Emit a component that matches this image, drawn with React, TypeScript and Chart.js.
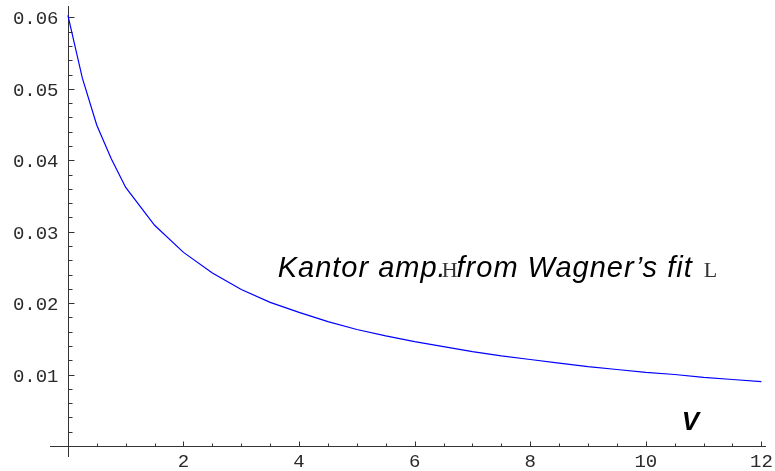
import React, { useEffect, useRef } from 'react';
import { Chart, registerables } from 'chart.js';

Chart.register(...registerables);

// ---- data ----
const xValues = [0, 0.25, 0.5, 0.75, 1, 1.5, 2, 2.5, 3, 3.5, 4, 4.5, 5, 5.5, 6, 6.5, 7, 7.5, 8, 8.5, 9, 9.5, 10, 10.5, 11, 11.5, 12];
const yValues = [0.0603, 0.0515, 0.0449, 0.0402, 0.0362, 0.0309, 0.0271, 0.0242, 0.0219, 0.0201, 0.0187, 0.0174, 0.0163, 0.0154, 0.0146, 0.0139, 0.0132, 0.0126, 0.0121, 0.0116, 0.0111, 0.0107, 0.0103, 0.0100, 0.0096, 0.0093, 0.0090];

const xTickValues = [2, 4, 6, 8, 10, 12];
const xTickLabels = ['2', '4', '6', '8', '10', '12'];
const xMinorStep = 0.5;
const yTickValues = [0.01, 0.02, 0.03, 0.04, 0.05, 0.06];
const yTickLabels = ['0.01', '0.02', '0.03', '0.04', '0.05', '0.06'];
const yMinorStep = 0.002;

const xMin = -0.31;
const xMax = 12.08;
const yMin = -0.00155;
const yMax = 0.0616;

const annotationAt = { x: 3.63, y: 0.0237 };
const axisLabelAt = { x: 10.62, y: 0.0022 };
const axisLabel = 'V';

const axisColor = '#333333';
const monoFont = '19px "Liberation Mono", "DejaVu Sans Mono", monospace';
const annSymFont = '22px "Liberation Serif", "DejaVu Serif", serif';
const italicFont = 'italic 29px "Liberation Sans", Arial, sans-serif';
const axisLabelFont = 'italic bold 26px "Liberation Sans", Arial, sans-serif';

const axesPlugin = {
  id: 'mathAxes',
  beforeDatasetsDraw(chart: any) {
    const { ctx, chartArea } = chart;
    const xs = chart.scales.x;
    const ys = chart.scales.y;
    const x0 = Math.round(xs.getPixelForValue(0)) + 0.5;
    const y0 = Math.round(ys.getPixelForValue(0)) + 0.5;
    ctx.save();
    ctx.strokeStyle = axisColor;
    ctx.lineWidth = 1;
    ctx.beginPath();
    ctx.moveTo(chartArea.left, y0);
    ctx.lineTo(chartArea.right, y0);
    ctx.moveTo(x0, chartArea.top);
    ctx.lineTo(x0, chartArea.bottom);
    ctx.stroke();

    // x ticks
    ctx.beginPath();
    for (let v = xMinorStep; v <= xMax + 1e-9; v += xMinorStep) {
      const px = Math.round(xs.getPixelForValue(v)) + 0.5;
      const major = xTickValues.some((t) => Math.abs(t - v) < 1e-6);
      ctx.moveTo(px, y0);
      ctx.lineTo(px, y0 - (major ? 5 : 3));
    }
    // y ticks
    for (let v = yMinorStep; v <= yMax + 1e-9; v += yMinorStep) {
      const py = Math.round(ys.getPixelForValue(v)) + 0.5;
      const major = yTickValues.some((t) => Math.abs(t - v) < 1e-7);
      ctx.moveTo(x0, py);
      ctx.lineTo(x0 + (major ? 6 : 4), py);
    }
    ctx.stroke();

    // tick labels
    ctx.fillStyle = '#2a2a2a';
    ctx.font = monoFont;
    ctx.textAlign = 'center';
    ctx.textBaseline = 'top';
    xTickValues.forEach((v, i) => {
      ctx.fillText(xTickLabels[i], xs.getPixelForValue(v), y0 + 6);
    });
    ctx.textAlign = 'right';
    ctx.textBaseline = 'middle';
    yTickValues.forEach((v, i) => {
      ctx.fillText(yTickLabels[i], x0 - 10, ys.getPixelForValue(v) + 2);
    });

    // annotation text
    ctx.fillStyle = '#000000';
    ctx.textAlign = 'left';
    ctx.textBaseline = 'alphabetic';
    let ax = xs.getPixelForValue(annotationAt.x);
    const ay = ys.getPixelForValue(annotationAt.y);
    const parts: [string, string, number, string, string][] = [
      ['Kantor amp.', italicFont, -5, '1px', '#000000'],
      ['H', annSymFont, -1, '0px', '#333333'],
      ['from Wagner\u2019s fit', italicFont, 11, '1px', '#000000'],
      ['L', annSymFont, 0, '0px', '#333333'],
    ];
    parts.forEach(([t, f, after, ls, col]) => {
      ctx.font = f;
      ctx.fillStyle = col;
      (ctx as any).letterSpacing = ls;
      ctx.fillText(t, ax, ay);
      ax += ctx.measureText(t).width + after;
    });
    (ctx as any).letterSpacing = '0px';

    ctx.fillStyle = '#000000';
    ctx.font = axisLabelFont;
    ctx.fillText(axisLabel, xs.getPixelForValue(axisLabelAt.x), ys.getPixelForValue(axisLabelAt.y));
    ctx.restore();
  },
};

export default function App() {
  const ref = useRef<HTMLCanvasElement | null>(null);
  useEffect(() => {
    if (!ref.current) return;
    const chart = new Chart(ref.current, {
      type: 'scatter',
      data: {
        datasets: [
          {
            data: xValues.map((x, i) => ({ x, y: yValues[i] })),
            showLine: true,
            borderColor: '#0000ff',
            borderWidth: 1.2,
            pointRadius: 0,
            fill: false,
            tension: 0,
          },
        ],
      },
      options: {
        animation: false,
        responsive: false,
        devicePixelRatio: 1,
        layout: { padding: { left: 50, top: 6, right: 9, bottom: 14 } },
        plugins: { legend: { display: false }, tooltip: { enabled: false } },
        scales: {
          x: { type: 'linear', min: xMin, max: xMax, display: false },
          y: { type: 'linear', min: yMin, max: yMax, display: false },
        },
      },
      plugins: [axesPlugin],
    });
    return () => chart.destroy();
  }, []);
  return (
    <div style={{ position: 'absolute', left: 0, top: 0, width: 775, height: 471, background: '#fff' }}>
      <canvas ref={ref} width={775} height={471} style={{ display: 'block' }} />
    </div>
  );
}
